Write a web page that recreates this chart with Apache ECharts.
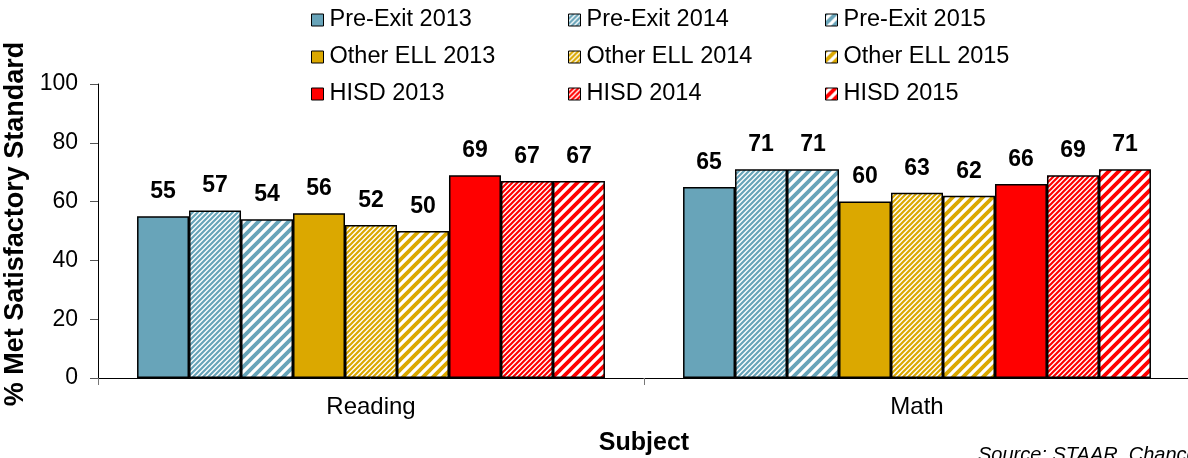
<!DOCTYPE html>
<html>
<head>
<meta charset="utf-8">
<style>
html,body{margin:0;padding:0;background:#fff;}
#chart{width:1188px;height:458px;}
</style>
<script src="https://cdn.jsdelivr.net/npm/echarts@6/dist/echarts.min.js"></script>
</head>
<body>
<div id="chart"></div>
<script>
// ---- data ----
const categories = ['Reading', 'Math'];
const seriesNames = [
  'Pre-Exit 2013', 'Pre-Exit 2014', 'Pre-Exit 2015',
  'Other ELL 2013', 'Other ELL 2014', 'Other ELL 2015',
  'HISD 2013', 'HISD 2014', 'HISD 2015'
];
const preExit2013 = [55, 65];
const preExit2014 = [57, 71];
const preExit2015 = [54, 71];
const otherEll2013 = [56, 60];
const otherEll2014 = [52, 63];
const otherEll2015 = [50, 62];
const hisd2013 = [69, 66];
const hisd2014 = [67, 69];
const hisd2015 = [67, 71];
const seriesValues = [preExit2013, preExit2014, preExit2015, otherEll2013, otherEll2014, otherEll2015, hisd2013, hisd2014, hisd2015];
const yMin = 0, yMax = 100, yStep = 20;
const sourceText = 'Source: STAAR, Chancery';

// ---- styles ----
const FONT = '"Liberation Sans", Arial, Helvetica, sans-serif';
const BLUE = '#68A4B9', GOLD = '#DBA800', RED = '#FF0000';

function stripes(color, size, lw) {
  const c = document.createElement('canvas');
  c.width = size; c.height = size;
  const g = c.getContext('2d');
  g.fillStyle = '#fff';
  g.fillRect(0, 0, size, size);
  g.strokeStyle = color;
  g.lineWidth = lw;
  g.beginPath();
  g.moveTo(-size, size); g.lineTo(size, -size);
  g.moveTo(0, size * 2); g.lineTo(size * 2, 0);
  g.moveTo(-size, size * 2); g.lineTo(size * 2, -size);
  g.moveTo(0, size); g.lineTo(size, 0);
  g.stroke();
  return { image: c, repeat: 'repeat' };
}
function fillFor(base, idx) {
  if (idx === 0) return base;
  if (idx === 1) return stripes(base, 5, 2.2);
  return stripes(base, 10, 3.8);
}
const baseColors = [BLUE, BLUE, BLUE, GOLD, GOLD, GOLD, RED, RED, RED];

const series = seriesNames.map((name, i) => ({
  name: name,
  type: 'bar',
  data: seriesValues[i],
  barGap: '0%',
  barCategoryGap: '14.3%',
  itemStyle: {
    color: fillFor(baseColors[i], i % 3),
    borderColor: '#000',
    borderWidth: 1.5
  },
  label: {
    show: true,
    position: 'top',
    distance: 13,
    color: '#000',
    fontFamily: FONT,
    fontWeight: 'bold',
    fontSize: 23
  }
}));

const legendCols = [311, 568, 825];
const legends = legendCols.map((x, col) => ({
  orient: 'vertical',
  left: x,
  top: 8,
  padding: 0,
  itemWidth: 12,
  itemHeight: 12,
  itemGap: 13,
  icon: 'rect',
  selectedMode: false,
  itemStyle: { borderColor: '#000', borderWidth: 1 },
  textStyle: { fontFamily: FONT, fontSize: 23.5, color: '#000', lineHeight: 23, padding: [0, 0, 0, 1] },
  data: [seriesNames[col], seriesNames[3 + col], seriesNames[6 + col]]
}));

const chart = echarts.init(document.getElementById('chart'), null, { renderer: 'canvas' });
chart.setOption({
  animation: false,
  backgroundColor: '#fff',
  legend: legends,
  grid: { left: 98, top: 84, width: 1092, bottom: 80, containLabel: false, outerBoundsMode: 'none' },
  xAxis: {
    type: 'category',
    data: categories,
    name: 'Subject',
    nameLocation: 'middle',
    nameGap: 53,
    nameTextStyle: { fontFamily: FONT, fontSize: 25, fontWeight: 'bold', color: '#000' },
    axisLine: { lineStyle: { color: '#000', width: 1 } },
    axisTick: { show: true, length: 7, lineStyle: { color: '#777' } },
    axisLabel: { fontFamily: FONT, fontSize: 24, color: '#000', margin: 17 }
  },
  yAxis: {
    type: 'value',
    min: yMin, max: yMax, interval: yStep,
    name: '% Met Satisfactory Standard',
    nameLocation: 'middle',
    nameGap: 58,
    nameTextStyle: { fontFamily: FONT, fontSize: 27, fontWeight: 'bold', color: '#000', padding: [0, 0, 0, 14] },
    splitLine: { show: false },
    axisLine: { show: true, lineStyle: { color: '#000', width: 1 } },
    axisTick: { show: true, length: 8, lineStyle: { color: '#555' } },
    axisLabel: { fontFamily: FONT, fontSize: 23, color: '#000', margin: 20 }
  },
  graphic: [{
    type: 'text',
    left: 978,
    top: 445,
    style: { text: sourceText, fontFamily: FONT, fontSize: 20, fontStyle: 'italic', fill: '#000' }
  }],
  series: series
});
</script>
</body>
</html>
